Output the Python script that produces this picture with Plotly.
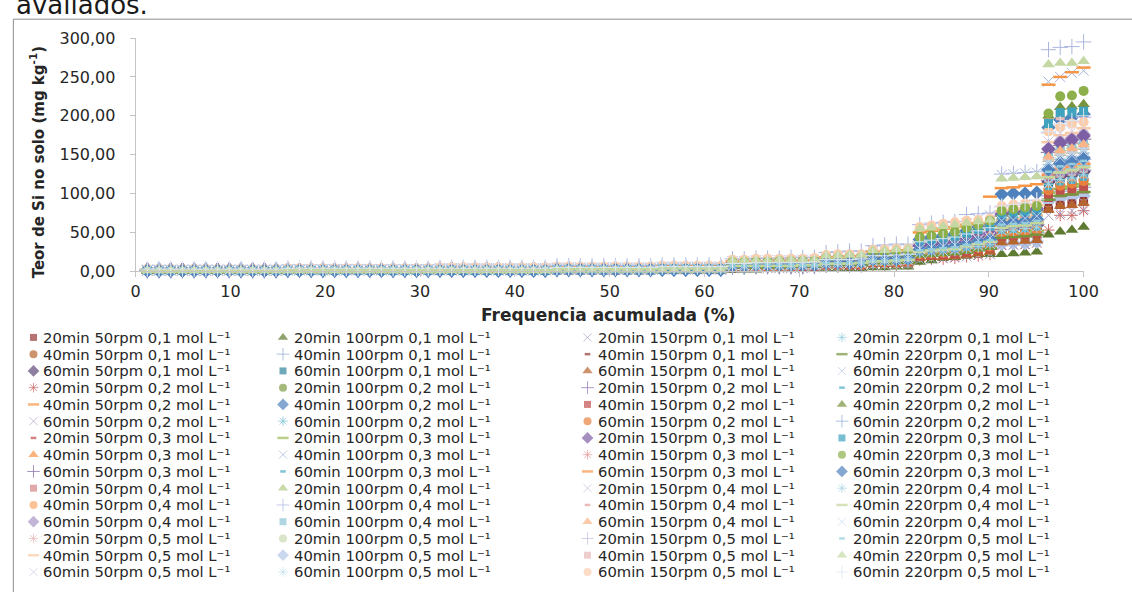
import plotly.graph_objects as go

W, H = 1132, 592

# treatment factors
tempos = ["20min", "40min", "60min"]
rotacoes = ["50rpm", "100rpm", "150rpm", "220rpm"]
concentracoes = ["0,1", "0,2", "0,3", "0,4", "0,5"]

x_ticks = [0, 10, 20, 30, 40, 50, 60, 70, 80, 90, 100]
y_ticks = [0, 50, 100, 150, 200, 250, 300]

# Si content in soil (mg kg-1) for each treatment, samples sorted ascending
t20_r50_c01 = [1,1,1,1,1,1,1,1,1,1,1,1, 1,1,1,1,1,1,1,1,1,1,1,1,1, 2,2,2,2,2,2,2,2,2,2, 2,2,2,2,2,2,2,2,2, 3,3,3,3,3,3,
               4,5,5,5,5,5,5,5, 7,7,7,7, 9,9,9,10, 17,18,19,20,22,23,25, 38,39,40,41, 81,86,87,90]
t40_r50_c01 = [1,1,1,1,1,1,1,1,1,1,1,1, 1,1,1,1,1,1,1,1,1,1,1,1,1, 2,2,2,2,2,2,2,2,2,2, 2,2,2,2,2,2,2,2,2, 3,3,3,3,3,3,
               6,6,6,6,7,7,7,7, 9,9,9,9, 12,12,12,13, 22,24,25,26,28,31,33, 50,51,52,54, 106,112,114,118]
t60_r50_c01 = [1,1,1,1,1,1,1,1,1,1,1,1, 2,2,2,2,2,2,2,2,2,2,2,2,2, 2,2,2,2,2,2,2,2,2,2, 3,3,3,3,3,3,3,3,3, 4,4,4,4,4,4,
               6,6,7,7,7,7,7,7, 10,10,10,10, 13,13,13,14, 24,26,27,28,31,33,36, 54,55,56,59, 115,122,124,128]
t20_r50_c02 = [1,1,1,1,1,1,1,1,1,1,1,1, 1,1,1,1,1,1,1,1,1,1,1,1,1, 1,1,1,1,1,1,1,1,1,1, 2,2,2,2,2,2,2,2,2, 2,2,2,2,2,2,
               4,4,4,4,4,4,4,5, 6,6,6,6, 8,8,8,9, 15,16,16,17,19,20,22, 33,34,34,36, 53,72,72,78]
t40_r50_c02 = [1,1,1,1,1,1,1,1,1,1,1,1, 2,2,2,2,2,2,2,2,2,2,2,2,2, 2,2,2,2,2,2,2,2,2,2, 3,3,3,3,3,3,3,3,3, 4,4,4,4,4,4,
               7,7,7,7,8,8,8,8, 10,10,11,11, 14,14,14,15, 26,28,29,30,33,36,39, 58,59,61,63, 124,131,134,138]
t60_r50_c02 = [1,1,1,1,1,1,1,1,1,1,1,1, 2,2,2,2,2,2,2,2,2,2,2,2,2, 2,2,2,2,2,2,2,2,2,2, 3,3,3,3,3,3,3,3,3, 4,4,4,4,4,4,
               7,7,8,8,8,8,8,9, 11,11,11,12, 15,15,15,16, 28,29,31,32,35,38,41, 62,63,65,68, 132,140,143,147]
t20_r50_c03 = [1,1,1,1,1,1,1,1,1,1,1,1, 1,1,1,1,1,1,1,1,1,1,1,1,1, 2,2,2,2,2,2,2,2,2,2, 2,2,2,2,2,2,2,2,2, 3,3,3,3,3,3,
               6,6,6,7,7,7,7,7, 9,9,9,10, 12,12,13,13, 23,24,26,27,29,32,34, 51,52,54,56, 110,116,118,122]
t40_r50_c03 = [1,1,1,1,1,1,1,1,1,1,1,1, 2,2,2,2,2,2,2,2,2,2,2,2,2, 2,2,2,2,2,2,2,2,2,2, 3,3,3,3,3,3,3,3,3, 4,4,4,4,4,4,
               8,8,8,9,9,9,9,9, 12,12,12,13, 16,16,17,18, 30,32,34,35,38,42,45, 67,69,70,74, 144,152,155,160]
t60_r50_c03 = [2,2,2,2,2,2,2,2,2,2,2,2, 2,2,2,2,2,2,2,2,2,2,2,2,2, 3,3,3,3,3,3,3,3,3,3, 4,4,4,4,4,4,4,4,4, 5,5,5,5,5,5,
               8,9,9,9,9,10,10,10, 13,13,13,14, 17,17,18,19, 32,34,36,37,41,44,48, 71,73,75,78, 153,162,165,170]
t20_r50_c04 = [1,1,1,1,1,1,1,1,1,1,1,1, 2,2,2,2,2,2,2,2,2,2,2,2,2, 2,2,2,2,2,2,2,2,2,2, 3,3,3,3,3,3,3,3,3, 4,4,4,4,4,4,
               7,7,7,7,7,7,8,8, 10,10,10,11, 13,13,14,15, 25,26,28,29,32,34,37, 55,57,58,61, 119,125,128,132]
t40_r50_c04 = [2,2,2,2,2,2,2,2,2,2,2,2, 2,2,2,2,2,2,2,2,2,2,2,2,2, 3,3,3,3,3,3,3,3,3,3, 4,4,4,4,4,4,4,4,4, 5,5,5,5,5,5,
               9,9,9,9,10,10,10,10, 13,13,13,14, 17,17,18,19, 33,34,36,38,41,45,48, 72,74,76,79, 155,163,167,172]
t60_r50_c04 = [2,2,2,2,2,2,2,2,2,2,2,2, 2,2,2,2,2,2,2,2,2,2,2,2,2, 3,3,3,3,3,3,3,3,3,3, 4,4,4,4,4,4,4,4,4, 5,5,5,5,5,5,
               9,9,9,9,10,10,10,10, 13,13,14,14, 18,18,18,19, 33,35,37,39,42,46,49, 74,76,77,81, 158,167,171,176]
t20_r50_c05 = [1,1,1,1,1,1,1,1,1,1,1,1, 2,2,2,2,2,2,2,2,2,2,2,2,2, 2,2,2,2,2,2,2,2,2,2, 3,3,3,3,3,3,3,3,3, 4,4,4,4,4,4,
               7,7,7,8,8,8,8,8, 11,11,11,11, 14,14,15,16, 27,28,30,31,34,37,40, 60,61,62,65, 128,135,138,142]
t40_r50_c05 = [2,2,2,2,2,2,2,2,2,2,2,2, 2,2,2,2,2,2,2,2,2,2,2,2,2, 3,3,3,3,3,3,3,3,3,3, 4,4,4,4,4,4,4,4,4, 5,5,5,5,5,5,
               9,9,10,10,10,10,10,11, 14,14,14,15, 18,18,19,20, 35,37,39,40,44,48,52, 77,79,81,85, 166,175,178,184]
t60_r50_c05 = [2,2,2,2,2,2,2,2,2,2,2,2, 2,2,2,2,2,2,2,2,2,2,2,2,2, 3,3,3,3,3,3,3,3,3,3, 4,4,4,4,4,4,4,4,4, 5,5,5,5,5,5,
               9,9,10,10,10,10,11,11, 14,14,14,15, 19,19,19,20, 35,37,39,41,45,48,52, 78,80,82,86, 167,177,180,186]

t20_r100_c01 = [0,0,0,0,0,0,0,0,0,0,0,0, 0,0,0,0,0,0,0,0,0,0,0,0,0, 1,1,1,1,1,1,1,1,1,1, 1,1,1,1,1,1,1,1,1, 1,1,1,1,1,1,
                2,2,2,3,3,3,3,3, 4,4,4,4, 5,5,6,6, 12,14,17,18,20,22,22, 22,23,24,25, 47,51,53,57]
t40_r100_c01 = [1,1,1,1,1,1,1,1,1,1,1,1, 1,1,1,1,1,1,1,1,1,1,1,1,1, 2,2,2,2,2,2,2,2,2,2, 2,2,2,2,2,2,2,2,2, 3,3,3,3,3,3,
                5,5,6,6,6,6,6,6, 8,8,8,9, 11,11,11,12, 21,22,23,24,26,28,30, 45,46,48,50, 97,103,105,108]
t60_r100_c01 = [1,1,1,1,1,1,1,1,1,1,1,1, 1,1,1,1,1,1,1,1,1,1,1,1,1, 2,2,2,2,2,2,2,2,2,2, 2,2,2,2,2,2,2,2,2, 3,3,3,3,3,3,
                6,6,6,6,7,7,7,7, 9,9,9,10, 12,12,13,13, 23,24,25,26,29,31,34, 50,52,53,55, 108,114,116,120]
t20_r100_c02 = [1,1,1,1,1,1,1,1,1,1,1,1, 1,1,1,1,1,1,1,1,1,1,1,1,1, 2,2,2,2,2,2,2,2,2,2, 2,2,2,2,2,2,2,2,2, 3,3,3,3,3,3,
                5,5,5,5,5,5,6,6, 8,8,8,8, 10,10,10,11, 19,20,21,22,24,26,28, 42,43,44,46, 90,95,97,100]
t40_r100_c02 = [2,2,2,2,2,2,2,2,2,2,2,2, 2,2,2,2,2,2,2,2,2,2,2,2,2, 3,3,3,3,3,3,3,3,3,3, 4,4,4,4,4,4,4,4,4, 5,5,5,5,5,5,
                11,11,12,12,12,12,12,13, 16,16,17,17, 22,22,23,24, 41,44,46,48,52,57,61, 99,100,100,101, 185,195,198,202]
t60_r100_c02 = [1,1,1,1,1,1,1,1,1,1,1,1, 2,2,2,2,2,2,2,2,2,2,2,2,2, 2,2,2,2,2,2,2,2,2,2, 3,3,3,3,3,3,3,3,3, 4,4,4,4,4,4,
                8,8,8,8,8,9,9,9, 11,11,12,12, 15,15,16,17, 29,30,32,33,36,40,43, 64,65,67,70, 137,144,147,152]
t20_r100_c03 = [1,1,1,1,1,1,1,1,1,1,1,1, 1,1,1,1,1,1,1,1,1,1,1,1,1, 2,2,2,2,2,2,2,2,2,2, 2,2,2,2,2,2,2,2,2, 3,3,3,3,3,3,
                6,6,6,6,6,6,6,6, 8,8,9,9, 11,11,12,12, 21,22,24,25,27,29,31, 47,48,49,52, 101,106,109,112]
t40_r100_c03 = [2,2,2,2,2,2,2,2,2,2,2,2, 3,3,3,3,3,3,3,3,3,3,3,3,3, 4,4,4,4,4,4,4,4,4,4, 5,5,5,5,5,5,5,5,5, 6,6,6,6,6,6,
                13,13,14,14,14,14,15,15, 19,19,20,21, 26,26,27,28, 49,52,54,57,62,67,72, 124,125,126,127, 244,250,255,258]
t60_r100_c03 = [1,1,1,1,1,1,1,1,1,1,1,1, 2,2,2,2,2,2,2,2,2,2,2,2,2, 2,2,2,2,2,2,2,2,2,2, 3,3,3,3,3,3,3,3,3, 4,4,4,4,4,4,
                7,7,8,8,8,8,8,9, 11,11,11,12, 15,15,16,16, 28,30,31,33,36,38,41, 62,64,65,68, 133,141,144,148]
t20_r100_c04 = [2,2,2,2,2,2,2,2,2,2,2,2, 2,2,2,2,2,2,2,2,2,2,2,2,2, 3,3,3,3,3,3,3,3,3,3, 4,4,4,4,4,4,4,4,4, 5,5,5,5,5,5,
                8,8,9,9,9,9,9,10, 12,12,13,13, 17,17,17,18, 32,33,35,37,40,43,46, 70,71,73,76, 149,158,161,166]
t40_r100_c04 = [3,3,3,3,3,3,3,3,3,3,3,3, 4,4,4,4,4,4,4,4,4,4,4,4,4, 5,5,5,5,5,5,5,5,5,5, 7,7,7,7,7,7,7,7,7, 8,8,8,8,8,8,
                16,16,17,17,17,18,18,18, 24,25,26,26, 33,34,35,35, 60,62,63,64,73,74,75, 125,126,127,128, 285,288,289,295]
t60_r100_c04 = [2,2,2,2,2,2,2,2,2,2,2,2, 2,2,2,2,2,2,2,2,2,2,2,2,2, 3,3,3,3,3,3,3,3,3,3, 4,4,4,4,4,4,4,4,4, 5,5,5,5,5,5,
                8,8,9,9,9,9,9,10, 12,12,13,13, 16,16,17,18, 31,33,34,36,39,43,46, 69,71,72,75, 148,156,159,164]
t20_r100_c05 = [1,1,1,1,1,1,1,1,1,1,1,1, 1,1,1,1,1,1,1,1,1,1,1,1,1, 2,2,2,2,2,2,2,2,2,2, 2,2,2,2,2,2,2,2,2, 3,3,3,3,3,3,
                5,5,5,5,5,5,5,6, 7,7,8,8, 10,10,10,11, 19,20,21,22,24,25,27, 41,42,43,45, 88,93,95,98]
t40_r100_c05 = [2,2,2,2,2,2,2,2,2,2,2,2, 2,2,2,2,2,2,2,2,2,2,2,2,2, 3,3,3,3,3,3,3,3,3,3, 4,4,4,4,4,4,4,4,4, 5,5,5,5,5,5,
                7,7,7,8,8,8,8,8, 10,10,10,11, 13,13,14,14, 26,27,28,29,30,31,32, 35,36,36,38, 90,93,95,97]
t60_r100_c05 = [1,1,1,1,1,1,1,1,1,1,1,1, 2,2,2,2,2,2,2,2,2,2,2,2,2, 2,2,2,2,2,2,2,2,2,2, 3,3,3,3,3,3,3,3,3, 4,4,4,4,4,4,
                8,8,8,9,9,9,9,9, 12,12,12,13, 16,16,16,17, 30,32,33,35,38,41,44, 66,68,70,73, 142,150,153,158]

t20_r150_c01 = [1,1,1,1,1,1,1,1,1,1,1,1, 1,1,1,1,1,1,1,1,1,1,1,1,1, 1,1,1,1,1,1,1,1,1,1, 2,2,2,2,2,2,2,2,2, 2,2,2,2,2,2,
                4,4,4,4,4,4,4,5, 6,6,6,6, 8,8,8,9, 15,16,17,18,19,21,22, 34,34,35,37, 72,75,78,80]
t40_r150_c01 = [1,1,1,1,1,1,1,1,1,1,1,1, 1,1,1,1,1,1,1,1,1,1,1,1,1, 2,2,2,2,2,2,2,2,2,2, 2,2,2,2,2,2,2,2,2, 3,3,3,3,3,3,
                5,5,5,5,5,5,5,5, 7,7,7,8, 9,9,10,10, 18,19,20,21,23,24,26, 39,40,41,43, 85,89,91,94]
t60_r150_c01 = [1,1,1,1,1,1,1,1,1,1,1,1, 1,1,1,1,1,1,1,1,1,1,1,1,1, 1,1,1,1,1,1,1,1,1,1, 2,2,2,2,2,2,2,2,2, 2,2,2,2,2,2,
                4,4,5,5,5,5,5,5, 7,7,7,7, 9,9,9,10, 17,18,18,19,21,23,25, 37,38,39,40, 79,84,85,88]
t20_r150_c02 = [1,1,1,1,1,1,1,1,1,1,1,1, 2,2,2,2,2,2,2,2,2,2,2,2,2, 2,2,2,2,2,2,2,2,2,2, 3,3,3,3,3,3,3,3,3, 4,4,4,4,4,4,
                7,7,7,7,7,7,7,8, 10,10,10,10, 13,13,14,14, 25,26,27,29,31,34,36, 55,56,57,60, 117,124,126,130]
t40_r150_c02 = [1,1,1,1,1,1,1,1,1,1,1,1, 1,1,1,1,1,1,1,1,1,1,1,1,1, 2,2,2,2,2,2,2,2,2,2, 2,2,2,2,2,2,2,2,2, 3,3,3,3,3,3,
                5,5,6,6,6,6,6,6, 8,8,8,8, 11,11,11,12, 20,21,22,23,25,28,30, 45,46,47,49, 95,101,103,106]
t60_r150_c02 = [1,1,1,1,1,1,1,1,1,1,1,1, 1,1,1,1,1,1,1,1,1,1,1,1,1, 2,2,2,2,2,2,2,2,2,2, 2,2,2,2,2,2,2,2,2, 3,3,3,3,3,3,
                6,6,6,6,6,6,7,7, 9,9,9,9, 12,12,12,13, 22,23,24,26,28,30,32, 49,50,51,53, 104,110,113,116]
t20_r150_c03 = [2,2,2,2,2,2,2,2,2,2,2,2, 2,2,2,2,2,2,2,2,2,2,2,2,2, 3,3,3,3,3,3,3,3,3,3, 4,4,4,4,4,4,4,4,4, 5,5,5,5,5,5,
                9,9,9,9,10,10,10,10, 13,13,14,14, 17,17,18,19, 33,35,37,38,42,45,49, 73,75,77,80, 157,165,169,174]
t40_r150_c03 = [1,1,1,1,1,1,1,1,1,1,1,1, 2,2,2,2,2,2,2,2,2,2,2,2,2, 2,2,2,2,2,2,2,2,2,2, 3,3,3,3,3,3,3,3,3, 4,4,4,4,4,4,
                7,7,7,8,8,8,8,8, 10,11,11,11, 14,14,15,15, 27,28,29,31,34,36,39, 59,60,62,64, 126,133,136,140]
t60_r150_c03 = [2,2,2,2,2,2,2,2,2,2,2,2, 3,3,3,3,3,3,3,3,3,3,3,3,3, 4,4,4,4,4,4,4,4,4,4, 5,5,5,5,5,5,5,5,5, 6,6,6,6,6,6,
                13,13,13,13,14,14,14,14, 18,18,19,19, 25,25,26,27, 50,52,55,57,60,62,96, 107,108,110,112, 240,250,256,262]
t20_r150_c04 = [1,1,1,1,1,1,1,1,1,1,1,1, 2,2,2,2,2,2,2,2,2,2,2,2,2, 2,2,2,2,2,2,2,2,2,2, 3,3,3,3,3,3,3,3,3, 4,4,4,4,4,4,
                8,8,8,8,9,9,9,9, 12,12,12,12, 16,16,16,17, 30,31,33,34,37,41,44, 66,67,69,72, 140,148,151,156]
t40_r150_c04 = [1,1,1,1,1,1,1,1,1,1,1,1, 2,2,2,2,2,2,2,2,2,2,2,2,2, 2,2,2,2,2,2,2,2,2,2, 3,3,3,3,3,3,3,3,3, 4,4,4,4,4,4,
                8,8,8,8,8,8,9,9, 11,11,12,12, 15,15,16,16, 29,30,32,33,36,39,42, 63,65,66,69, 135,143,146,150]
t60_r150_c04 = [2,2,2,2,2,2,2,2,2,2,2,2, 2,2,2,2,2,2,2,2,2,2,2,2,2, 3,3,3,3,3,3,3,3,3,3, 4,4,4,4,4,4,4,4,4, 5,5,5,5,5,5,
                8,8,9,9,9,9,9,9, 12,12,13,13, 16,16,17,18, 31,33,34,36,39,42,46, 68,70,72,75, 147,155,158,163]
t20_r150_c05 = [2,2,2,2,2,2,2,2,2,2,2,2, 3,3,3,3,3,3,3,3,3,3,3,3,3, 4,4,4,4,4,4,4,4,4,4, 5,5,5,5,5,5,5,5,5, 6,6,6,6,6,6,
                10,10,11,11,11,11,11,12, 15,15,15,16, 20,20,21,22, 38,40,42,44,48,51,55, 83,85,87,91, 178,188,192,198]
t40_r150_c05 = [2,2,2,2,2,2,2,2,2,2,2,2, 3,3,3,3,3,3,3,3,3,3,3,3,3, 4,4,4,4,4,4,4,4,4,4, 5,5,5,5,5,5,5,5,5, 6,6,6,6,6,6,
                10,10,11,11,11,12,12,12, 16,16,16,17, 21,21,22,23, 40,42,44,46,50,54,58, 80,81,82,84, 195,200,207,208]
t60_r150_c05 = [3,3,3,3,3,3,3,3,3,3,3,3, 4,4,4,4,4,4,4,4,4,4,4,4,4, 5,5,5,5,5,5,5,5,5,5, 6,6,6,6,6,6,6,6,6, 7,7,7,7,7,7,
                15,15,16,16,16,16,16,17, 21,22,22,22, 28,28,29,29, 57,59,61,63,65,66,68, 84,86,87,88, 180,186,190,192]

t20_r220_c01 = [1,1,1,1,1,1,1,1,1,1,1,1, 2,2,2,2,2,2,2,2,2,2,2,2,2, 2,2,2,2,2,2,2,2,2,2, 3,3,3,3,3,3,3,3,3, 4,4,4,4,4,4,
                7,7,7,7,7,8,8,8, 10,10,11,11, 14,14,14,15, 26,27,29,30,33,35,38, 57,58,60,63, 122,129,132,136]
t40_r220_c01 = [1,1,1,1,1,1,1,1,1,1,1,1, 1,1,1,1,1,1,1,1,1,1,1,1,1, 2,2,2,2,2,2,2,2,2,2, 2,2,2,2,2,2,2,2,2, 3,3,3,3,3,3,
                5,5,5,5,5,6,6,6, 8,8,8,8, 10,10,11,11, 19,20,21,22,24,27,29, 43,44,45,47, 92,97,99,102]
t60_r220_c01 = [1,1,1,1,1,1,1,1,1,1,1,1, 2,2,2,2,2,2,2,2,2,2,2,2,2, 2,2,2,2,2,2,2,2,2,2, 3,3,3,3,3,3,3,3,3, 4,4,4,4,4,4,
                6,6,7,7,7,7,7,7, 9,9,10,10, 13,13,13,14, 24,25,26,28,30,33,35, 53,54,55,58, 113,120,122,126]
t20_r220_c02 = [1,1,1,1,1,1,1,1,1,1,1,1, 1,1,1,1,1,1,1,1,1,1,1,1,1, 2,2,2,2,2,2,2,2,2,2, 2,2,2,2,2,2,2,2,2, 3,3,3,3,3,3,
                6,6,6,6,6,7,7,7, 9,9,9,9, 12,12,12,13, 22,24,25,26,28,31,33, 50,51,52,54, 106,112,114,118]
t40_r220_c02 = [1,1,1,1,1,1,1,1,1,1,1,1, 1,1,1,1,1,1,1,1,1,1,1,1,1, 1,1,1,1,1,1,1,1,1,1, 2,2,2,2,2,2,2,2,2, 3,3,3,3,3,3,
                11,11,11,12,12,12,12,12, 16,16,17,17, 21,22,22,23, 41,43,45,47,52,56,60, 74,76,78,80, 200,211,212,215]
t60_r220_c02 = [1,1,1,1,1,1,1,1,1,1,1,1, 2,2,2,2,2,2,2,2,2,2,2,2,2, 2,2,2,2,2,2,2,2,2,2, 3,3,3,3,3,3,3,3,3, 4,4,4,4,4,4,
                7,7,8,8,8,8,8,8, 11,11,11,12, 14,14,15,16, 27,29,30,32,35,37,40, 60,62,63,66, 130,137,140,144]
t20_r220_c03 = [1,1,1,1,1,1,1,1,1,1,1,1, 1,1,1,1,1,1,1,1,1,1,1,1,1, 1,1,1,1,1,1,1,1,1,1, 2,2,2,2,2,2,2,2,2, 3,3,3,3,3,3,
                10,10,11,11,11,11,12,12, 15,15,16,16, 21,21,22,23, 39,41,43,45,49,54,58, 72,74,76,78, 190,204,205,206]
t40_r220_c03 = [1,1,1,1,1,1,1,1,1,1,1,1, 1,1,1,1,1,1,1,1,1,1,1,1,1, 1,1,1,1,1,1,1,1,1,1, 2,2,2,2,2,2,2,2,2, 3,3,3,3,3,3,
                12,12,12,12,13,13,13,13, 17,17,18,18, 23,23,24,25, 44,46,49,51,56,60,65, 78,80,82,84, 203,225,226,232]
t60_r220_c03 = [1,1,1,1,1,1,1,1,1,1,1,1, 1,1,1,1,1,1,1,1,1,1,1,1,1, 1,1,1,1,1,1,1,1,1,1, 2,2,2,2,2,2,2,2,2, 2,2,2,2,2,2,
                7,7,8,8,8,8,8,8, 11,11,11,12, 15,15,15,16, 28,29,31,32,35,38,41, 61,63,64,67, 131,139,142,146]
t20_r220_c04 = [1,1,1,1,1,1,1,1,1,1,1,1, 1,1,1,1,1,1,1,1,1,1,1,1,1, 2,2,2,2,2,2,2,2,2,2, 2,2,2,2,2,2,2,2,2, 3,3,3,3,3,3,
                6,6,6,7,7,7,7,7, 9,9,10,10, 12,12,13,14, 24,25,26,27,30,32,35, 52,53,55,57, 112,118,120,124]
t40_r220_c04 = [1,1,1,1,1,1,1,1,1,1,1,1, 2,2,2,2,2,2,2,2,2,2,2,2,2, 2,2,2,2,2,2,2,2,2,2, 3,3,3,3,3,3,3,3,3, 4,4,4,4,4,4,
                7,7,7,7,7,7,8,8, 10,10,10,11, 13,13,14,15, 25,27,28,29,32,35,38, 56,58,59,62, 121,127,130,134]
t60_r220_c04 = [2,2,2,2,2,2,2,2,2,2,2,2, 3,3,3,3,3,3,3,3,3,3,3,3,3, 3,3,3,3,3,3,3,3,3,3, 4,4,4,4,4,4,4,4,4, 5,5,5,5,5,5,
                8,8,8,8,8,9,9,9, 12,12,12,12, 15,15,16,17, 29,31,32,34,37,40,43, 65,66,68,71, 139,146,149,154]
t20_r220_c05 = [1,1,1,1,1,1,1,1,1,1,1,1, 2,2,2,2,2,2,2,2,2,2,2,2,2, 2,2,2,2,2,2,2,2,2,2, 3,3,3,3,3,3,3,3,3, 4,4,4,4,4,4,
                7,7,7,8,8,8,8,8, 11,11,11,11, 14,14,15,16, 27,28,30,31,34,37,40, 60,61,62,65, 128,135,138,142]
t40_r220_c05 = [1,1,1,1,1,1,1,1,1,1,1,1, 1,1,1,1,1,1,1,1,1,1,1,1,1, 1,1,1,1,1,1,1,1,1,1, 2,2,2,2,2,2,2,2,2, 2,2,2,2,2,2,
                14,14,14,14,15,15,15,15, 20,20,21,21, 27,27,28,29, 55,56,58,60,62,64,66, 119,120,121,122, 266,268,268,270]
t60_r220_c05 = [3,3,3,3,3,3,3,3,3,3,3,3, 4,4,4,4,4,4,4,4,4,4,4,4,4, 4,4,4,4,4,4,4,4,4,4, 5,5,5,5,5,5,5,5,5, 6,6,6,6,6,6,
                10,10,11,11,11,11,11,12, 15,15,15,16, 20,20,21,22, 38,40,42,44,48,52,56, 84,86,88,92, 180,190,194,200]

# plotting order: rotation -> concentration -> time
series = [
    t20_r50_c01, t40_r50_c01, t60_r50_c01, t20_r50_c02, t40_r50_c02, t60_r50_c02,
    t20_r50_c03, t40_r50_c03, t60_r50_c03, t20_r50_c04, t40_r50_c04, t60_r50_c04,
    t20_r50_c05, t40_r50_c05, t60_r50_c05,
    t20_r100_c01, t40_r100_c01, t60_r100_c01, t20_r100_c02, t40_r100_c02, t60_r100_c02,
    t20_r100_c03, t40_r100_c03, t60_r100_c03, t20_r100_c04, t40_r100_c04, t60_r100_c04,
    t20_r100_c05, t40_r100_c05, t60_r100_c05,
    t20_r150_c01, t40_r150_c01, t60_r150_c01, t20_r150_c02, t40_r150_c02, t60_r150_c02,
    t20_r150_c03, t40_r150_c03, t60_r150_c03, t20_r150_c04, t40_r150_c04, t60_r150_c04,
    t20_r150_c05, t40_r150_c05, t60_r150_c05,
    t20_r220_c01, t40_r220_c01, t60_r220_c01, t20_r220_c02, t40_r220_c02, t60_r220_c02,
    t20_r220_c03, t40_r220_c03, t60_r220_c03, t20_r220_c04, t40_r220_c04, t60_r220_c04,
    t20_r220_c05, t40_r220_c05, t60_r220_c05,
]
nomes = [f"{t} {r} {c} mol L⁻¹" for r in rotacoes for c in concentracoes for t in tempos]

# marker styles: (plotly symbol, size on plot, size in key, line width)
FORMAS = {
    "quad":  ("square", 9, 7, 0),
    "circ":  ("circle", 10, 8, 0),
    "losa":  ("diamond", 11, 9, 0),
    "tri":   ("triangle-up", 11, 9, 0),
    "ast":   ("asterisk-open", 10, 8, 1),
    "xis":   ("x-thin-open", 10, 8, 1),
    "mais":  ("cross-thin-open", 11, 9, 1),
    "traco": ("line-ew-open", 10, 8, 2.5),
    "curto": ("line-ew-open", 5, 4, 2.5),
}
formas = [
    "quad", "circ", "losa", "ast", "traco", "xis", "curto", "tri", "mais", "quad", "circ", "losa", "ast", "traco", "xis",
    "tri", "mais", "quad", "circ", "losa", "ast", "traco", "xis", "curto", "tri", "mais", "quad", "circ", "losa", "ast",
    "xis", "curto", "tri", "mais", "quad", "circ", "losa", "ast", "traco", "xis", "curto", "tri", "mais", "quad", "circ",
    "ast", "traco", "xis", "curto", "tri", "mais", "quad", "circ", "losa", "ast", "traco", "xis", "curto", "tri", "mais",
]
cores = [
    "#953735", "#B7652E", "#604A7B", "#CD6A68", "#F79646", "#B3A2C7", "#C0504D", "#F79646",
    "#8064A2", "#D48584", "#F9A86C", "#A995C4", "#E6B9B8", "#FBC9A4", "#D3CAE2",
    "#5E7B31", "#8EA6D1", "#31859C", "#7F9D44", "#4F81BD", "#78C0D5", "#9BBB59", "#A3B5DD",
    "#4BACC6", "#B3CC86", "#AAB6E0", "#8FC5D8", "#C9DAB0", "#B4C7E7", "#C0E1EA",
    "#A7A3C8", "#953735", "#B7652E", "#8A72B0", "#C0504D", "#E8803E", "#7D5FA5", "#E69A98",
    "#F79646", "#C6BEDC", "#E0A09E", "#FAB488", "#C5BCDE", "#E6B9B8", "#FBCDAC",
    "#93CDDD", "#77933C", "#B9CDE5", "#4BACC6", "#77933C", "#8EA9D8", "#3FA3BF", "#8DB04A",
    "#4F81BD", "#A6D3E2", "#C3D69B", "#C6D9F1", "#93CDDD", "#C5D8A4", "#DCE6F2",
]

FONTE = "DejaVu Sans"
TEXTO = "#262626"
EIXO = "#C4C4C4"

fig = go.Figure()

# one marker trace per treatment; x is the cumulative frequency of each sorted sample
for vals, nome, cor, forma in zip(series, nomes, cores, formas):
    simb, tam, _, lw = FORMAS[forma]
    n = len(vals)
    freq = [(k + 1) * 100.0 / n for k in range(n)]
    fig.add_trace(go.Scatter(
        x=freq, y=vals, mode="markers", name=nome, showlegend=False,
        cliponaxis=False, hoverinfo="skip",
        marker=dict(symbol=simb, size=tam, color=cor, line=dict(color=cor, width=lw)),
    ))

# key below the plot: four columns of fifteen entries, drawn on a pixel-space overlay
col_marca = [29, 283, 593, 852]
col_texto = [38, 293, 603, 862]
lin_y0, lin_dy = 339.3, 17.31
kx, ky, ksym, ksize, kcol, klw = [], [], [], [], [], []
anotacoes = []
for k, (nome, cor, forma) in enumerate(zip(nomes, cores, formas)):
    c, r = divmod(k, 15)
    yy = lin_y0 + r * lin_dy
    simb, _, tam_leg, lw = FORMAS[forma]
    kx.append(col_marca[c]); ky.append(yy)
    ksym.append(simb); ksize.append(tam_leg); kcol.append(cor); klw.append(lw)
    anotacoes.append(dict(
        text=nome, x=col_texto[c] / W, y=1 - yy / H, xref="paper", yref="paper",
        xanchor="left", yanchor="middle", showarrow=False, borderpad=0,
        font=dict(family=FONTE, size=14.8, color=TEXTO),
    ))

fig.add_trace(go.Scatter(
    x=kx, y=ky, xaxis="x2", yaxis="y2", mode="markers", showlegend=False,
    hoverinfo="skip", cliponaxis=False,
    marker=dict(symbol=ksym, size=ksize, color=kcol, line=dict(color=kcol, width=klw)),
))

# axis titles and the caption line cut by the top edge
anotacoes += [
    dict(text="Frequencia acumulada (%)", x=614 / W, y=1 - 316.5 / H, xref="paper", yref="paper",
         xanchor="center", yanchor="middle", showarrow=False,
         font=dict(family=FONTE, size=17, color=TEXTO, weight="bold")),
    dict(text="Teor de Si no solo (mg kg<sup>-1</sup>)", x=33 / W, y=1 - 158 / H,
         xref="paper", yref="paper", xanchor="center", yanchor="middle", textangle=-90,
         showarrow=False, font=dict(family=FONTE, size=15, color=TEXTO, weight="bold")),
    dict(text="avaliados.", x=9 / W, y=1 + 4 / H, xref="paper", yref="paper",
         xanchor="left", yanchor="middle", showarrow=False,
         font=dict(family=FONTE, size=26, color="#1a1a1a")),
]

fig.update_layout(
    width=W, height=H, margin=dict(l=0, r=0, t=0, b=0),
    paper_bgcolor="white", plot_bgcolor="rgba(0,0,0,0)",
    font=dict(family=FONTE, color=TEXTO),
    showlegend=False,
    annotations=anotacoes,
    xaxis=dict(
        domain=[133 / W, 1098 / W], range=[0, 100], anchor="y",
        tickvals=x_ticks, ticks="outside", ticklen=5, tickcolor=EIXO,
        showline=True, linecolor=EIXO, linewidth=1, showgrid=False, zeroline=False,
        tickfont=dict(family=FONTE, size=16, color=TEXTO), fixedrange=True,
    ),
    yaxis=dict(
        domain=[1 - 271 / H, 1 - 30 / H], range=[0, 300], anchor="x",
        tickvals=y_ticks, ticktext=[f"{v:.2f}".replace(".", ",") for v in y_ticks],
        ticks="outside", ticklen=5, tickcolor=EIXO, ticklabelstandoff=11,
        showline=True, linecolor=EIXO, linewidth=1, showgrid=False, zeroline=False,
        tickfont=dict(family=FONTE, size=16, color=TEXTO), fixedrange=True,
    ),
    xaxis2=dict(domain=[0, 1], range=[0, W], anchor="y2", visible=False, fixedrange=True),
    yaxis2=dict(domain=[0, 1], range=[H, 0], anchor="x2", visible=False, fixedrange=True),
    shapes=[dict(type="rect", xref="paper", yref="paper",
                 x0=8.5 / W, x1=1.05, y0=-0.05, y1=1 - 10.5 / H,
                 line=dict(color="#8C8C8C", width=1), fillcolor="rgba(0,0,0,0)", layer="below")],
)

fig.write_html("out.html", config={"displayModeBar": False})
